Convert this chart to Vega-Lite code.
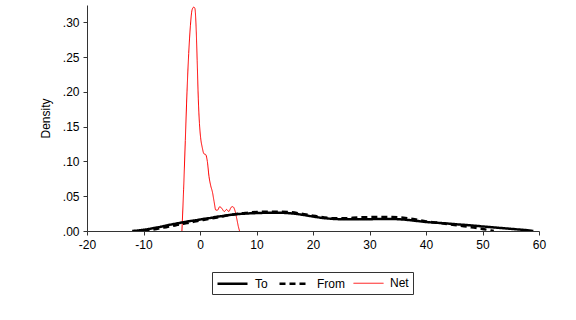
{
  "$schema": "https://vega.github.io/schema/vega-lite/v6.json",
  "width": 452,
  "height": 226,
  "autosize": {"type": "none"},
  "padding": {"left": 87, "top": 5, "right": 37, "bottom": 89},
  "background": "white",
  "config": {
    "view": {"stroke": null},
    "font": "Liberation Sans",
    "axis": {"labelFont": "Liberation Sans", "labelFontSize": 12, "labelColor": "black", "domainColor": "#333", "tickColor": "#333", "tickSize": 4, "grid": false, "titleFont": "Liberation Sans", "titleFontSize": 12, "titleFontWeight": "normal", "titleColor": "black"},
    "legend": {"labelFont": "Liberation Sans", "labelFontSize": 12, "labelColor": "black", "title": null, "orient": "none", "legendX": 125, "legendY": 267, "direction": "horizontal", "strokeColor": "#333", "padding": 4, "symbolType": "M-2.5,0H2.5", "symbolSize": 144, "symbolOffset": 9, "labelOffset": 15, "columnPadding": 6}
  },
  "data": {"values": [
    {"series": "Net", "x": -3.2, "y": 0},
    {"series": "Net", "x": -2.9, "y": 0.06},
    {"series": "Net", "x": -2.6, "y": 0.13},
    {"series": "Net", "x": -2.3, "y": 0.2},
    {"series": "Net", "x": -2.0, "y": 0.255},
    {"series": "Net", "x": -1.7, "y": 0.295},
    {"series": "Net", "x": -1.4, "y": 0.318},
    {"series": "Net", "x": -1.1, "y": 0.322},
    {"series": "Net", "x": -0.9, "y": 0.32},
    {"series": "Net", "x": -0.7, "y": 0.295},
    {"series": "Net", "x": -0.5, "y": 0.245},
    {"series": "Net", "x": -0.3, "y": 0.19},
    {"series": "Net", "x": -0.1, "y": 0.155},
    {"series": "Net", "x": 0.1, "y": 0.135},
    {"series": "Net", "x": 0.4, "y": 0.12},
    {"series": "Net", "x": 0.7, "y": 0.111},
    {"series": "Net", "x": 1.0, "y": 0.11},
    {"series": "Net", "x": 1.3, "y": 0.1},
    {"series": "Net", "x": 1.6, "y": 0.078},
    {"series": "Net", "x": 1.9, "y": 0.065},
    {"series": "Net", "x": 2.2, "y": 0.056},
    {"series": "Net", "x": 2.5, "y": 0.042},
    {"series": "Net", "x": 2.8, "y": 0.03},
    {"series": "Net", "x": 3.1, "y": 0.03},
    {"series": "Net", "x": 3.5, "y": 0.035},
    {"series": "Net", "x": 3.9, "y": 0.032},
    {"series": "Net", "x": 4.3, "y": 0.028},
    {"series": "Net", "x": 4.7, "y": 0.031},
    {"series": "Net", "x": 5.1, "y": 0.028},
    {"series": "Net", "x": 5.5, "y": 0.034},
    {"series": "Net", "x": 5.8, "y": 0.035},
    {"series": "Net", "x": 6.2, "y": 0.029},
    {"series": "Net", "x": 6.5, "y": 0.018},
    {"series": "Net", "x": 6.8, "y": 0.006},
    {"series": "Net", "x": 7.0, "y": 0},
    {"series": "To", "x": -12, "y": 0},
    {"series": "To", "x": -11, "y": 0.0008},
    {"series": "To", "x": -10, "y": 0.0018},
    {"series": "To", "x": -9, "y": 0.003},
    {"series": "To", "x": -8, "y": 0.0045},
    {"series": "To", "x": -7, "y": 0.006},
    {"series": "To", "x": -6, "y": 0.0078},
    {"series": "To", "x": -5, "y": 0.0095},
    {"series": "To", "x": -4, "y": 0.011},
    {"series": "To", "x": -3, "y": 0.0125},
    {"series": "To", "x": -2, "y": 0.014},
    {"series": "To", "x": -1, "y": 0.0152},
    {"series": "To", "x": 0, "y": 0.0165},
    {"series": "To", "x": 1, "y": 0.0178},
    {"series": "To", "x": 2, "y": 0.019},
    {"series": "To", "x": 3, "y": 0.0205},
    {"series": "To", "x": 4, "y": 0.0215},
    {"series": "To", "x": 5, "y": 0.0228},
    {"series": "To", "x": 6, "y": 0.0238},
    {"series": "To", "x": 7, "y": 0.0245},
    {"series": "To", "x": 8, "y": 0.025},
    {"series": "To", "x": 10, "y": 0.0258},
    {"series": "To", "x": 12, "y": 0.0262},
    {"series": "To", "x": 14, "y": 0.0262},
    {"series": "To", "x": 16, "y": 0.0255},
    {"series": "To", "x": 18, "y": 0.0235},
    {"series": "To", "x": 20, "y": 0.0208},
    {"series": "To", "x": 22, "y": 0.0185},
    {"series": "To", "x": 24, "y": 0.0172},
    {"series": "To", "x": 26, "y": 0.0168},
    {"series": "To", "x": 28, "y": 0.0168},
    {"series": "To", "x": 30, "y": 0.017},
    {"series": "To", "x": 32, "y": 0.0172},
    {"series": "To", "x": 34, "y": 0.0172},
    {"series": "To", "x": 36, "y": 0.0165},
    {"series": "To", "x": 38, "y": 0.0148},
    {"series": "To", "x": 40, "y": 0.013},
    {"series": "To", "x": 42, "y": 0.0118},
    {"series": "To", "x": 44, "y": 0.0106},
    {"series": "To", "x": 46, "y": 0.0093},
    {"series": "To", "x": 48, "y": 0.008},
    {"series": "To", "x": 50, "y": 0.0066},
    {"series": "To", "x": 52, "y": 0.0052},
    {"series": "To", "x": 54, "y": 0.0038},
    {"series": "To", "x": 56, "y": 0.0024},
    {"series": "To", "x": 58, "y": 0.001},
    {"series": "To", "x": 59, "y": 0},
    {"series": "From", "x": -10, "y": 0},
    {"series": "From", "x": -9, "y": 0.0012},
    {"series": "From", "x": -8, "y": 0.0025},
    {"series": "From", "x": -7, "y": 0.004},
    {"series": "From", "x": -6, "y": 0.0055},
    {"series": "From", "x": -5, "y": 0.007},
    {"series": "From", "x": -4, "y": 0.0088},
    {"series": "From", "x": -3, "y": 0.0105},
    {"series": "From", "x": -2, "y": 0.012},
    {"series": "From", "x": -1, "y": 0.0135},
    {"series": "From", "x": 0, "y": 0.015},
    {"series": "From", "x": 1, "y": 0.0165},
    {"series": "From", "x": 2, "y": 0.018},
    {"series": "From", "x": 3, "y": 0.0195},
    {"series": "From", "x": 4, "y": 0.021},
    {"series": "From", "x": 5, "y": 0.0225},
    {"series": "From", "x": 6, "y": 0.0238},
    {"series": "From", "x": 7, "y": 0.025},
    {"series": "From", "x": 8, "y": 0.026},
    {"series": "From", "x": 10, "y": 0.0272},
    {"series": "From", "x": 12, "y": 0.0278},
    {"series": "From", "x": 14, "y": 0.0278},
    {"series": "From", "x": 16, "y": 0.027},
    {"series": "From", "x": 18, "y": 0.0248},
    {"series": "From", "x": 20, "y": 0.022},
    {"series": "From", "x": 22, "y": 0.0195},
    {"series": "From", "x": 24, "y": 0.0182},
    {"series": "From", "x": 26, "y": 0.0185},
    {"series": "From", "x": 28, "y": 0.0195},
    {"series": "From", "x": 30, "y": 0.02},
    {"series": "From", "x": 32, "y": 0.0202},
    {"series": "From", "x": 34, "y": 0.02},
    {"series": "From", "x": 36, "y": 0.019},
    {"series": "From", "x": 38, "y": 0.0168},
    {"series": "From", "x": 40, "y": 0.0138},
    {"series": "From", "x": 42, "y": 0.012},
    {"series": "From", "x": 44, "y": 0.0098},
    {"series": "From", "x": 46, "y": 0.0076},
    {"series": "From", "x": 48, "y": 0.0054},
    {"series": "From", "x": 50, "y": 0.003},
    {"series": "From", "x": 51, "y": 0.0015},
    {"series": "From", "x": 52, "y": 0}
  ]},
  "mark": {"type": "line", "interpolate": "monotone", "clip": true},
  "encoding": {
    "x": {"field": "x", "type": "quantitative", "scale": {"domain": [-20, 60], "nice": false, "zero": false},
      "axis": {"title": null, "values": [-20, -10, 0, 10, 20, 30, 40, 50, 60], "labelExpr": "'' + datum.value", "labelPadding": 4, "labelFlush": false}},
    "y": {"field": "y", "type": "quantitative", "scale": {"domain": [0, 0.325], "nice": false},
      "axis": {"title": "Density", "values": [0, 0.05, 0.1, 0.15, 0.2, 0.25, 0.3], "format": ".2f", "labelExpr": "replace(datum.label, /^0/, '')", "labelPadding": 4, "titlePadding": 10, "labelFlush": false}},
    "color": {"field": "series", "type": "nominal", "scale": {"domain": ["To", "From", "Net"], "range": ["#000000", "#000000", "#ff0000"]}},
    "strokeDash": {"field": "series", "type": "nominal", "scale": {"domain": ["To", "From", "Net"], "range": [[1, 0], [6, 4], [1, 0]]}},
    "strokeWidth": {"field": "series", "type": "nominal", "scale": {"type": "ordinal", "domain": ["To", "From", "Net"], "range": [2.5, 2.5, 1]}}
  }
}
